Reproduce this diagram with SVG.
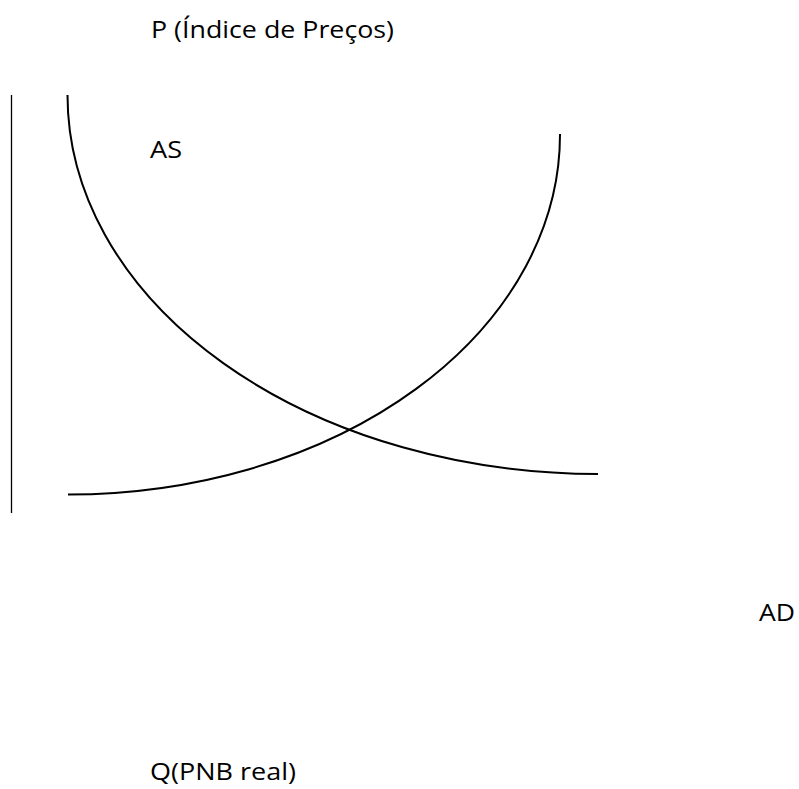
<svg xmlns="http://www.w3.org/2000/svg" width="799" height="789" viewBox="0 0 799 789">
<style>
.lbl{font-family:"Open Sans","Noto Sans","Liberation Sans",sans-serif;font-size:23px;fill:#000}
.crv{fill:none;stroke:#000;stroke-width:2}
.axis{fill:none;stroke:#000;stroke-width:1.3}
</style>
<rect width="799" height="789" fill="#fff"/>
<g id="axis-p">
<line class="axis" x1="11.5" y1="95" x2="11.5" y2="513"/>
</g>
<g id="connectors">
<path id="curve-ad" class="crv" d="M67.5,95 A531,379 0 0 0 598,474"/>
<path id="curve-as" class="crv" d="M68,494.5 A492,360 0 0 0 560,134"/>
</g>
<g id="label-p"><text class="lbl" x="151" y="38" textLength="243" lengthAdjust="spacingAndGlyphs">P (Índice de Preços)</text></g>
<g id="label-as"><text class="lbl" x="150" y="158" textLength="32" lengthAdjust="spacingAndGlyphs">AS</text></g>
<g id="label-ad"><text class="lbl" x="759" y="621" textLength="36" lengthAdjust="spacingAndGlyphs">AD</text></g>
<g id="label-q"><text class="lbl" x="150" y="780" textLength="146" lengthAdjust="spacingAndGlyphs">Q(PNB real)</text></g>
</svg>
